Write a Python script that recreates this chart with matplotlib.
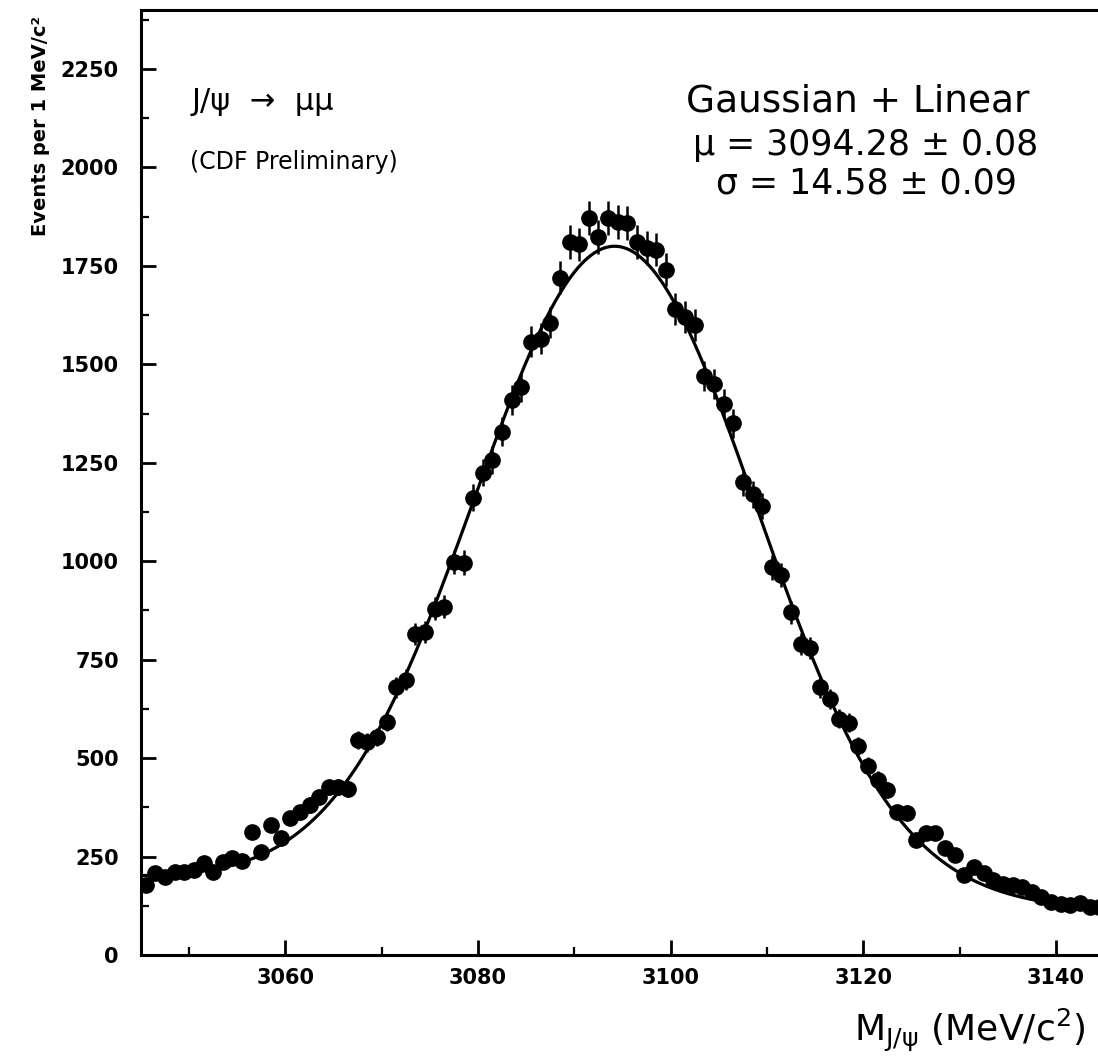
import numpy as np
import matplotlib
matplotlib.use("Agg")
import matplotlib.pyplot as plt
from matplotlib.ticker import MultipleLocator, FixedLocator

# ---- data (1 MeV bins) ----
bin_centers = np.arange(3045.5, 3145.0, 1.0)
counts = [
    178, 208, 198, 211, 211, 216, 234, 211, 236, 246,
    240, 312, 262, 330, 297, 348, 363, 381, 401, 427,
    427, 422, 546, 540, 554, 592, 680, 699, 815, 820,
    880, 885, 998, 996, 1161, 1225, 1258, 1329, 1410, 1443,
    1557, 1565, 1606, 1720, 1811, 1805, 1872, 1824, 1872, 1862,
    1860, 1811, 1796, 1791, 1740, 1640, 1620, 1600, 1470, 1450,
    1400, 1350, 1200, 1170, 1140, 985, 965, 870, 790, 780,
    680, 650, 600, 590, 530, 480, 445, 419, 363, 361,
    292, 310, 310, 272, 254, 203, 224, 208, 191, 180,
    178, 173, 160, 147, 135, 130, 127, 132, 122, 122,
]
counts = np.array(counts[:len(bin_centers)], dtype=float)
errors = np.sqrt(counts)

# fit parameters (Gaussian + linear)
fit_mu = 3094.28
fit_sigma = 14.58
fit_amp = 1644.0
bg_at_mu = 156.0
bg_slope = -0.816

x_ticks = [3060, 3080, 3100, 3120, 3140]
y_ticks = [0, 250, 500, 750, 1000, 1250, 1500, 1750, 2000, 2250]

W, H = 1098, 1063
fig = plt.figure(figsize=(W / 100, H / 100), dpi=100)
left_px, right_px, top_px, bot_px = 141, 1104, 10, 955
ax = fig.add_axes([left_px / W, 1 - bot_px / H, (right_px - left_px) / W, (bot_px - top_px) / H])

ax.errorbar(bin_centers, counts, yerr=errors, fmt='o', color='black',
            markersize=11, elinewidth=1.8, capsize=0, zorder=3)

xf = np.linspace(3045, 3145, 600)
yf = fit_amp * np.exp(-0.5 * ((xf - fit_mu) / fit_sigma) ** 2) + bg_at_mu + bg_slope * (xf - fit_mu)
ax.plot(xf, yf, color='black', linewidth=2.3, zorder=2)

ax.set_xlim(3045, 3145)
ax.set_ylim(0, 2400)
ax.xaxis.set_major_locator(FixedLocator(x_ticks))
ax.xaxis.set_minor_locator(MultipleLocator(10))
ax.yaxis.set_major_locator(FixedLocator(y_ticks))
ax.yaxis.set_minor_locator(MultipleLocator(125))
ax.set_xticklabels([str(t) for t in x_ticks])
ax.set_yticklabels([str(t) for t in y_ticks])

ax.tick_params(axis='both', which='major', direction='in', length=11, width=2,
               labelsize=15, top=False, right=False)
ax.tick_params(axis='both', which='minor', direction='in', length=6, width=1.6,
               top=False, right=False)
ax.tick_params(axis='x', which='major', pad=9)
ax.tick_params(axis='y', which='major', pad=16)
for lab in ax.get_xticklabels() + ax.get_yticklabels():
    lab.set_fontweight('bold')

for s in ['left', 'bottom', 'top']:
    ax.spines[s].set_linewidth(2.2)
ax.spines['right'].set_visible(False)

# y label (small, at upper left)
fig.text(40 / W, 1 - 126 / H, "Events per 1 MeV/c²", rotation=90,
         ha='center', va='center', fontsize=14, fontweight='bold')

# annotations
fig.text(192 / W, 1 - 101 / H, "J/ψ  →  μμ", ha='left', va='center', fontsize=22)
fig.text(190 / W, 1 - 162 / H, "(CDF Preliminary)", ha='left', va='center', fontsize=17)
fig.text(858 / W, 1 - 101 / H, "Gaussian + Linear", ha='center', va='center', fontsize=27)
fig.text(866 / W, 1 - 145 / H, "μ = 3094.28 ± 0.08", ha='center', va='center', fontsize=25)
fig.text(866 / W, 1 - 183 / H, "σ = 14.58 ± 0.09", ha='center', va='center', fontsize=25)

fig.text(1085 / W, 1 - 1030 / H, r"$\mathregular{M}_{\mathregular{J/\psi}}$ (MeV/c$^\mathregular{2}$)",
         ha='right', va='center', fontsize=26)

fig.savefig("out.png", dpi=100)
